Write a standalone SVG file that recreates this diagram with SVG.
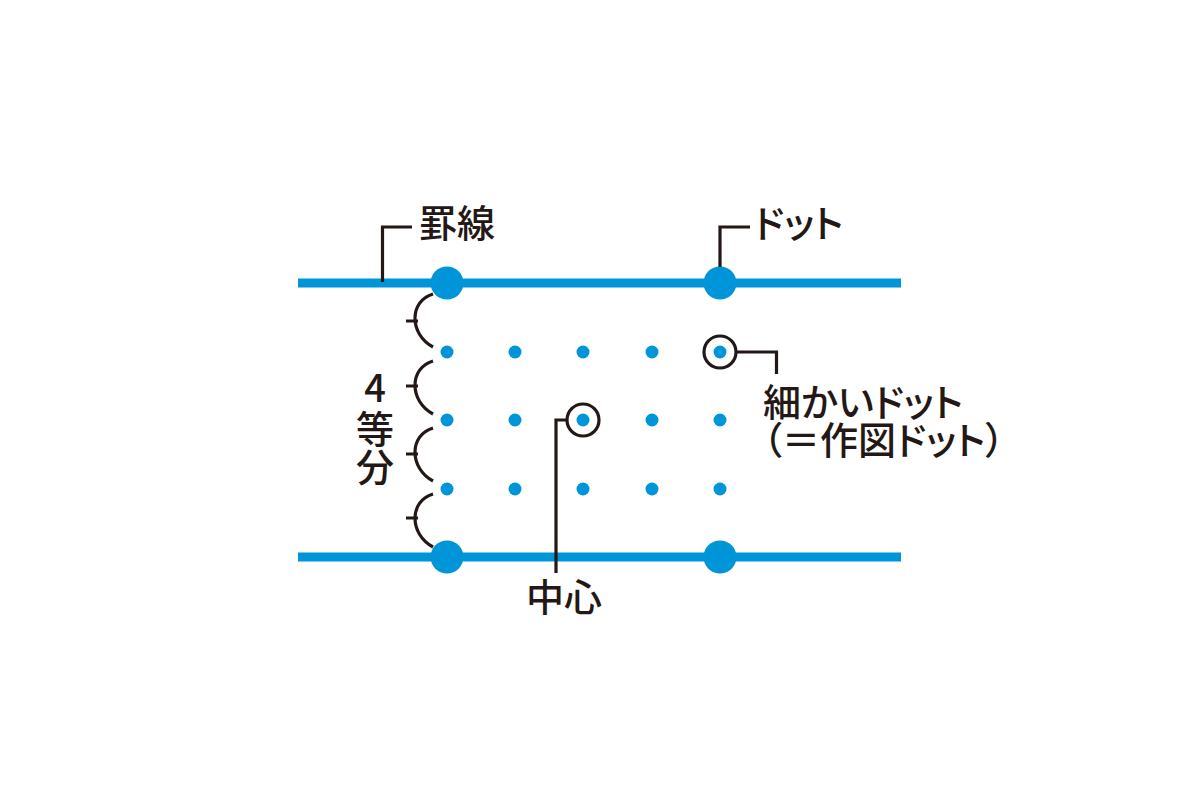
<svg xmlns="http://www.w3.org/2000/svg" width="1200" height="800" viewBox="0 0 1200 800">
<style>
.rule{stroke:#0095d9;stroke-width:9;fill:none}
.big{fill:#0095d9}
.dot{fill:#0095d9}
.lead{stroke:#231815;stroke-width:3.2;fill:none}
.ring{stroke:#231815;stroke-width:3.2;fill:none}
.txt{font-family:"Noto Sans CJK JP","Noto Sans",sans-serif;font-size:38px;font-weight:500;fill:#231815;font-feature-settings:"palt" 1}
</style>
<rect width="1200" height="800" fill="#ffffff"/>
<g id="rules">
<line class="rule" x1="298" y1="283" x2="901" y2="283"/>
<line class="rule" x1="298" y1="557" x2="901" y2="557"/>
</g>
<g id="big-dots">
<circle class="big" cx="447" cy="283" r="16.5"/>
<circle class="big" cx="720" cy="283" r="16.5"/>
<circle class="big" cx="447" cy="557" r="16.5"/>
<circle class="big" cx="720" cy="557" r="16.5"/>
</g>
<g id="fine-dots">
<circle class="dot" cx="447" cy="352" r="6.5"/><circle class="dot" cx="515" cy="352" r="6.5"/><circle class="dot" cx="583" cy="352" r="6.5"/><circle class="dot" cx="652" cy="352" r="6.5"/><circle class="dot" cx="720" cy="352" r="6.5"/>
<circle class="dot" cx="447" cy="420" r="6.5"/><circle class="dot" cx="515" cy="420" r="6.5"/><circle class="dot" cx="583" cy="420" r="6.5"/><circle class="dot" cx="652" cy="420" r="6.5"/><circle class="dot" cx="720" cy="420" r="6.5"/>
<circle class="dot" cx="447" cy="489" r="6.5"/><circle class="dot" cx="515" cy="489" r="6.5"/><circle class="dot" cx="583" cy="489" r="6.5"/><circle class="dot" cx="652" cy="489" r="6.5"/><circle class="dot" cx="720" cy="489" r="6.5"/>
</g>
<g id="rings">
<circle class="ring" cx="720" cy="352" r="16"/>
<circle class="ring" cx="583" cy="420" r="16"/>
</g>
<g id="braces">
<path class="lead" d="M433,294 C409,301 409,334 433,347 M406,321 H418"/>
<path class="lead" d="M433,361 C409,368 409,401 433,414 M406,386 H418"/>
<path class="lead" d="M433,428 C409,435 409,468 433,481 M406,454 H418"/>
<path class="lead" d="M433,494 C409,501 409,534 433,547 M406,518 H418"/>
</g>
<g id="connectors">
<polyline class="lead" points="382.5,282 382.5,227 412,227"/>
<polyline class="lead" points="720,267 720,227 750,227"/>
<polyline class="lead" points="736,352 776.5,352 776.5,374"/>
<polyline class="lead" points="567,420 556,420 556,573"/>
</g>
<g id="labels">
<text class="txt" x="419" y="237">罫線</text>
<text class="txt" x="754" y="237">ドット</text>
<text class="txt"><tspan x="763" y="416">細かいドット</tspan><tspan x="763" y="454">（＝作図ドット）</tspan></text>
<text class="txt" x="526" y="611">中心</text>
<text class="txt" text-anchor="middle"><tspan x="375" y="402">4</tspan><tspan x="375" y="443">等</tspan><tspan x="375" y="481">分</tspan></text>
</g>
</svg>
